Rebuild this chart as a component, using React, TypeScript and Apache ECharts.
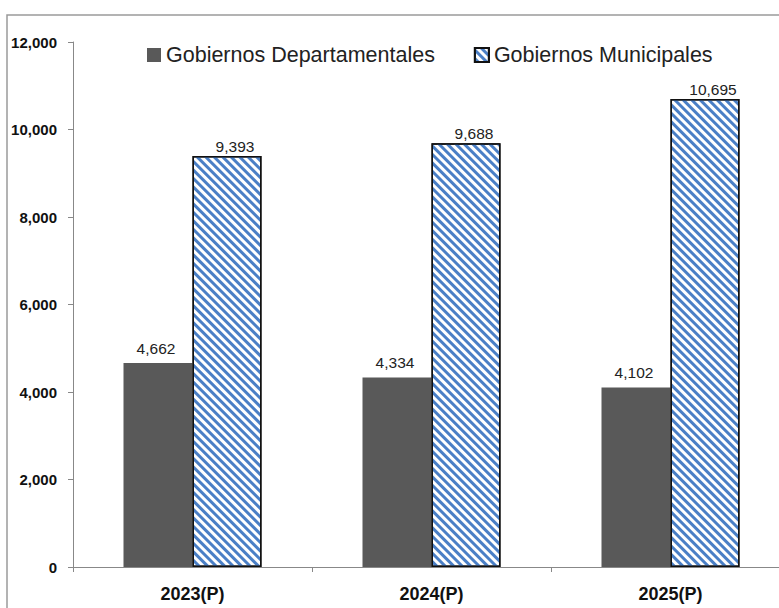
import React, { useEffect, useRef } from "react";
import * as echarts from "echarts";

const categories = ["2023(P)", "2024(P)", "2025(P)"];
const departamentales = [4662, 4334, 4102];
const municipales = [9393, 9688, 10695];
const seriesNames = ["Gobiernos Departamentales", "Gobiernos Municipales"];

export default function App() {
  const ref = useRef<HTMLDivElement>(null);
  useEffect(() => {
    if (!ref.current) return;
    const chart = echarts.init(ref.current, null, { renderer: "svg" });
    const font = "Liberation Sans";
    const labelBase = {
      show: true,
      position: "top",
      color: "#222",
      fontSize: 15.5,
      fontFamily: font,
      formatter: (p: any) => p.value.toLocaleString("en-US"),
    };
    chart.setOption({
      animation: false,
      backgroundColor: "#fff",
      graphic: [
        {
          type: "rect",
          shape: { x: 7, y: 15, width: 900, height: 800 },
          style: { fill: "none", stroke: "#9a9a9a", lineWidth: 1.5 },
          silent: true,
        },
      ],
      legend: {
        top: 44,
        left: 147,
        padding: 0,
        itemWidth: 14,
        itemHeight: 14,
        itemGap: 39,
        textStyle: { fontSize: 21.5, fontFamily: font, color: "#222" },
        data: [
          { name: seriesNames[0], icon: "rect" },
          { name: seriesNames[1], icon: "rect" },
        ],
      },
      grid: { left: 73, width: 717, top: 42, bottom: 41, outerBoundsMode: "none", containLabel: false },
      xAxis: {
        type: "category",
        data: categories,
        axisLine: { lineStyle: { color: "#888", width: 1 } },
        axisTick: { show: true, length: 5, lineStyle: { color: "#888" } },
        axisLabel: { fontSize: 18, fontWeight: "bold", fontFamily: font, color: "#111", margin: 18 },
      },
      yAxis: {
        type: "value",
        min: 0,
        max: 12000,
        interval: 2000,
        splitLine: { show: false },
        axisLine: { show: true, lineStyle: { color: "#888", width: 1 } },
        axisTick: { show: true, length: 5, lineStyle: { color: "#888" } },
        axisLabel: {
          fontSize: 15,
          fontWeight: "bold",
          fontFamily: font,
          color: "#111",
          margin: 16,
          formatter: (v: number) => v.toLocaleString("en-US"),
        },
      },
      series: [
        {
          name: seriesNames[0],
          type: "bar",
          data: departamentales,
          barWidth: 69,
          barGap: "0%",
          itemStyle: { color: "#595959" },
          label: { ...labelBase, distance: 7, offset: [-2, 0] },
        },
        {
          name: seriesNames[1],
          type: "bar",
          data: municipales,
          barWidth: 69,
          barGap: "0%",
          itemStyle: {
            color: "#ffffff",
            borderColor: "#111",
            borderWidth: 1.5,
            decal: {
              symbol: "rect",
              symbolSize: 1,
              color: "#4a7fc6",
              dashArrayX: [[1, 0]],
              dashArrayY: [2.4, 3],
              rotation: Math.PI / 4,
            },
          },
          label: { ...labelBase, distance: 2, offset: [8, 0] },
        },
      ],
    });
    return () => chart.dispose();
  }, []);
  return (
    <div
      ref={ref}
      style={{ position: "fixed", left: 0, top: 0, width: 779, height: 608 }}
    />
  );
}
